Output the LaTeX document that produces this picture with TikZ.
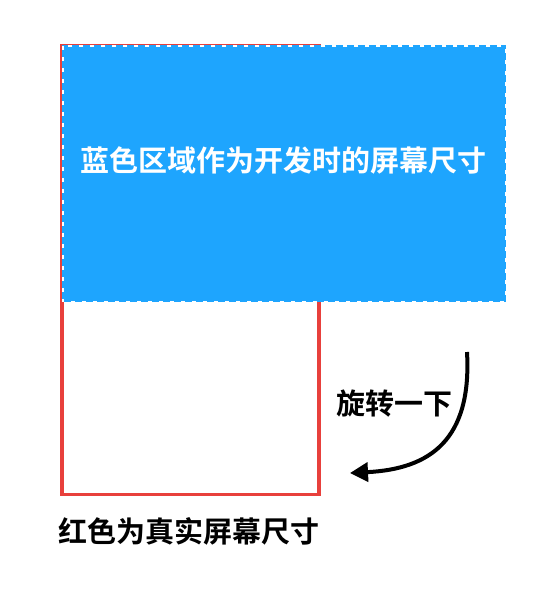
\documentclass[tikz,border=0pt]{standalone}
\usepackage{fontspec}
\newfontfamily\cjk{Noto Sans CJK SC Bold}
\usetikzlibrary{arrows.meta}
\definecolor{devblue}{HTML}{1EA5FE}
\definecolor{realred}{HTML}{E8403C}
\tikzset{
  lbl/.style={font=\cjk\fontsize{29}{32}\selectfont, inner sep=0pt},
}
\begin{document}
\begin{tikzpicture}[x=1pt,y=-1pt]
\useasboundingbox (0,0) rectangle (552,608);
% red real screen
\node[draw=realred, line width=3.8, minimum width=257, minimum height=449, inner sep=0, anchor=north west] (red) at (60,43.5) {};
% blue dev area
\fill[devblue] (62,45) rectangle (506,302);
\draw[white, line width=1.4, dash pattern=on 4 off 7] (62.8,45.8) rectangle (505.2,301.2);
\node[lbl, text=white] (bluetxt) at (283,160) {蓝色区域作为开发时的屏幕尺寸};
\node[lbl] (rot) at (394,404) {旋转一下};
\node[lbl] (redtxt) at (188.5,531) {红色为真实屏幕尺寸};
\coordinate (a0) at (467,352);
\coordinate (a1) at (350,473);
\draw[line width=4, -{Triangle[length=18pt,width=19pt]}] (a0) .. controls (472,440) and (430,469) .. (a1);
\end{tikzpicture}
\end{document}
